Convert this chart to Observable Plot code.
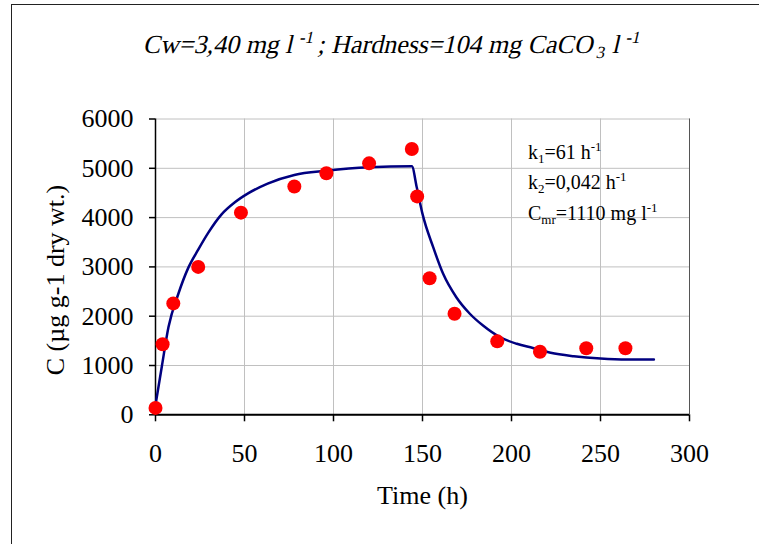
<!DOCTYPE html>
<html><head><meta charset="utf-8">
<script src="https://cdn.jsdelivr.net/npm/d3@7"></script>
<script src="https://cdn.jsdelivr.net/npm/@observablehq/plot@0.6"></script>
<style>
body{margin:0;background:#fff;}
#wrap{position:relative;width:759px;height:544px;overflow:hidden;}
#frame{position:absolute;left:11px;top:4px;width:900px;height:700px;border-left:1.5px solid #222;border-top:1.5px solid #222;pointer-events:none;}
</style>
</head><body>
<div id="wrap"><div id="frame"></div></div>
<script>
// observed points
const obsTime = [0, 4, 10, 24, 48, 78, 96, 120, 144, 147, 154, 168, 192, 216, 242, 264];
const obsConc = [140, 1430, 2260, 3000, 4100, 4630, 4900, 5100, 5390, 4430, 2770, 2050, 1490, 1280, 1350, 1350];
// fitted curve
const fitTime = [0, 3.6, 7.3, 12.8, 18.4, 24, 29.6, 37, 44.6, 52, 63, 78, 96, 120, 144, 146.8, 150, 156, 161.6, 169, 176.6, 184, 193.5, 203, 212, 222, 235, 250, 265, 280];
const fitConc = [200, 990, 1780, 2450, 2980, 3350, 3690, 4060, 4310, 4490, 4690, 4865, 4950, 5020, 5040, 4610, 4075, 3400, 2860, 2385, 2050, 1810, 1575, 1440, 1355, 1257, 1188, 1141, 1121, 1120];
const xTicks = [0, 50, 100, 150, 200, 250, 300];
const yTicks = [0, 1000, 2000, 3000, 4000, 5000, 6000];
const xLabel = "Time (h)";
const yLabel = "C (µg g-1 dry wt.)";

const obs = obsTime.map((t, i) => ({t, c: obsConc[i]}));
const fit = fitTime.map((t, i) => ({t, c: fitConc[i]}));
const font = "'Liberation Serif','Times New Roman',serif";

const chart = Plot.plot({
  width: 759,
  height: 544,
  marginLeft: 155,
  marginRight: 70,
  marginTop: 118.5,
  marginBottom: 129.7,
  style: {fontFamily: font, fontSize: "26px", background: "transparent", overflow: "visible"},
  x: {domain: [0, 300]},
  y: {domain: [0, 6000]},
  marks: [
    Plot.gridX(xTicks, {stroke: "#c0c0c0", strokeOpacity: 1, strokeWidth: 1}),
    Plot.gridY(yTicks, {stroke: "#c0c0c0", strokeOpacity: 1, strokeWidth: 1}),
    Plot.axisX({ticks: xTicks, tickFormat: d => String(d), tickSize: 7, tickPadding: 22, stroke: "#000", strokeWidth: 1.5, fill: "#000", label: xLabel, labelAnchor: "center", labelArrow: "none", labelOffset: 89, fontSize: 26}),
    Plot.axisY({ticks: yTicks, tickFormat: d => String(d), tickSize: 6, tickPadding: 16, stroke: "#000", strokeWidth: 1.5, fill: "#000", label: null, fontSize: 26}),
    Plot.ruleY([0], {stroke: "#000", strokeWidth: 2}),
    Plot.ruleX([0], {stroke: "#000", strokeWidth: 1.5}),
    Plot.ruleX([300], {stroke: "#555", strokeWidth: 1}),
    Plot.line(fit, {x: "t", y: "c", stroke: "#000080", strokeWidth: 2.5, curve: "monotone-x"}),
    Plot.dot(obs, {x: "t", y: "c", r: 7, fill: "#ff0000", stroke: "none"})
  ]
});
document.getElementById("wrap").prepend(chart);

const svg = d3.select(chart);
// y axis label
svg.append("text").attr("transform", "translate(64,280) rotate(-90)").attr("text-anchor", "middle")
  .attr("font-family", font).attr("font-size", 26).attr("fill", "#000").text(yLabel);
// title (serif, slanted)
const title = svg.append("text").attr("transform", "translate(390,53) skewX(-13)").attr("text-anchor", "middle")
  .attr("font-family", font).attr("font-size", 26).attr("fill", "#000");
title.append("tspan").text("Cw=3,40 mg l");
title.append("tspan").attr("font-size", 17).attr("dy", -10).text(" -1");
title.append("tspan").attr("dy", 10).text(" ; Hardness=104 mg CaCO");
title.append("tspan").attr("font-size", 17).attr("dy", 5).text(" 3");
title.append("tspan").attr("dy", -5).text(" l");
title.append("tspan").attr("font-size", 17).attr("dy", -10).text(" -1");

// annotations
function ann(y, main, sub, rest, sup) {
  const t = svg.append("text").attr("x", 528).attr("y", y).attr("text-anchor", "start")
    .attr("font-family", font).attr("font-size", 20).attr("fill", "#000");
  t.append("tspan").text(main);
  t.append("tspan").attr("font-size", 13).attr("dy", 4).text(sub);
  t.append("tspan").attr("dy", -4).text(rest);
  if (sup) t.append("tspan").attr("font-size", 13).attr("dy", -8).text(sup);
}
ann(159, "k", "1", "=61 h", "-1");
ann(189, "k", "2", "=0,042 h", "-1");
ann(220, "C", "mr", "=1110 mg l", "-1");
</script>
</body></html>
